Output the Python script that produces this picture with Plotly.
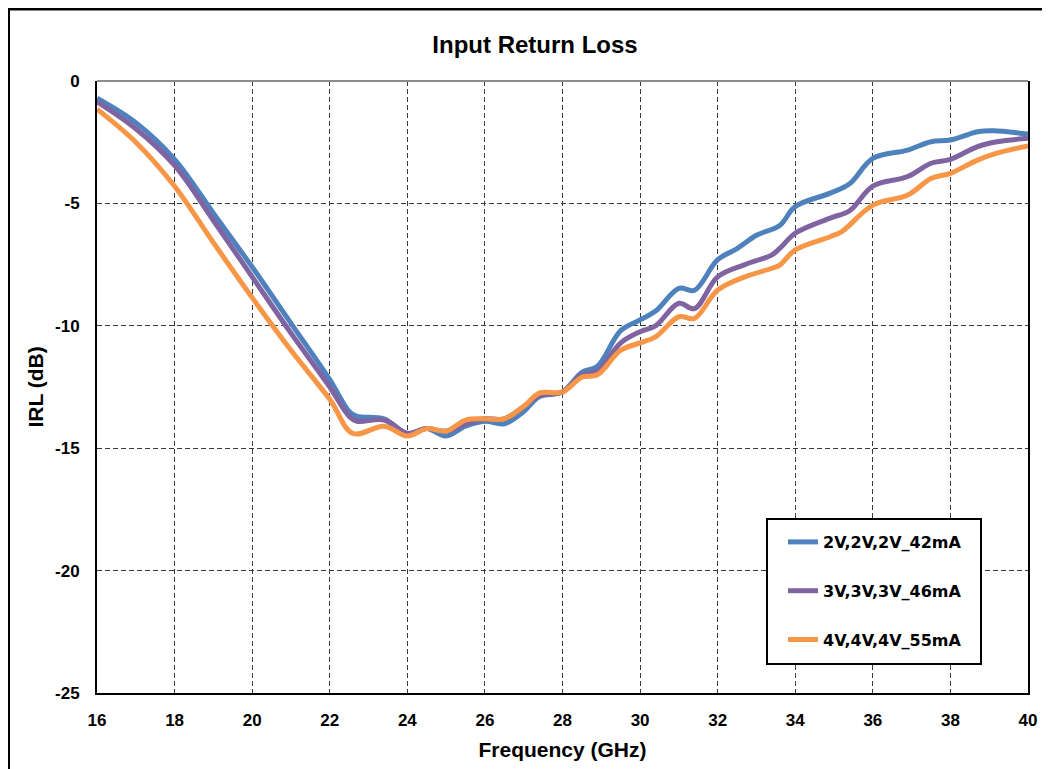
import plotly.graph_objects as go

# ---- data ----
freq_2v = [16, 17, 18, 19, 20, 21, 22, 22.5, 22.7, 23.4, 24.0, 24.5, 25.0, 25.5, 26.0, 26.5, 27.0, 27.4,
           28.0, 28.5, 28.9, 29.5, 30.0, 30.4, 31.0, 31.4, 32.0, 32.5, 33.0, 33.6, 34.0, 34.9, 35.4, 36.0,
           36.9, 37.5, 38.0, 38.7, 39.1, 40.0]
irl_2v = [-0.7, -1.7, -3.2, -5.4, -7.6, -9.9, -12.2, -13.5, -13.7, -13.8, -14.4, -14.2, -14.5, -14.1, -13.9,
          -14.0, -13.5, -12.9, -12.7, -11.9, -11.65, -10.2, -9.76, -9.4, -8.47, -8.55, -7.3, -6.85, -6.3, -5.9,
          -5.13, -4.58, -4.2, -3.16, -2.82, -2.48, -2.41, -2.07, -2.03, -2.17]

freq_3v = [16, 17, 18, 19, 20, 21, 22, 22.5, 22.7, 23.4, 24.0, 24.5, 25.0, 25.5, 26.0, 26.5, 27.0, 27.4,
           28.0, 28.5, 28.9, 29.5, 30.0, 30.4, 31.0, 31.4, 32.0, 32.7, 33.4, 33.6, 34.0, 34.9, 35.4, 36.0,
           36.9, 37.5, 38.0, 38.7, 39.2, 40.0]
irl_3v = [-0.85, -1.95, -3.45, -5.7, -8.0, -10.3, -12.5, -13.7, -13.9, -13.85, -14.4, -14.2, -14.3, -14.0,
          -13.8, -13.8, -13.3, -12.85, -12.7, -12.0, -11.85, -10.7, -10.24, -10.0, -9.08, -9.3, -8.0, -7.5,
          -7.1, -6.84, -6.22, -5.6, -5.3, -4.29, -3.9, -3.36, -3.2, -2.68, -2.48, -2.34]

freq_4v = [16, 17, 18, 19, 20, 21, 22, 22.6, 23.4, 24.0, 24.5, 25.0, 25.5, 26.0, 26.5, 27.0, 27.4,
           28.0, 28.5, 28.9, 29.5, 30.0, 30.4, 31.0, 31.4, 32.0, 32.7, 33.4, 33.6, 34.0, 34.9, 35.2, 36.0,
           36.9, 37.5, 38.0, 38.7, 39.2, 40.0]
irl_4v = [-1.15, -2.5, -4.3, -6.6, -8.85, -11.0, -13.0, -14.4, -14.1, -14.5, -14.2, -14.3, -13.85, -13.8,
          -13.8, -13.3, -12.75, -12.7, -12.1, -12.0, -11.0, -10.7, -10.45, -9.63, -9.7, -8.54, -8.0, -7.65,
          -7.52, -6.9, -6.36, -6.15, -5.07, -4.66, -3.98, -3.77, -3.23, -2.95, -2.65]

series_names = ["2V,2V,2V_42mA", "3V,3V,3V_46mA", "4V,4V,4V_55mA"]
x_ticks = [16, 18, 20, 22, 24, 26, 28, 30, 32, 34, 36, 38, 40]
y_ticks = [0, -5, -10, -15, -20, -25]

colors = ["#4F81BD", "#8064A2", "#F79646"]
label_font = "Liberation Sans, Arial, sans-serif"

# figure-pixel geometry (page is shown with an 8px body margin)
L, T, PW, PH = 89, 73, 931, 612
W, H = 1050, 769


def px(x):
    return (x - L) / PW


def py(y):
    return (T + PH - y) / PH


fig = go.Figure()
for name, xs, ys, c in zip(series_names, [freq_2v, freq_3v, freq_4v], [irl_2v, irl_3v, irl_4v], colors):
    fig.add_trace(go.Scatter(x=xs, y=ys, name=f"<b>{name}</b>", mode="lines", legendgroup=name,
                             line=dict(color=c, width=5, shape="spline", smoothing=1.0)))

grid = dict(showgrid=True, gridcolor="#3a3a3a", gridwidth=1.3, griddash="5px,3px")

fig.update_layout(
    width=W, height=H,
    margin=dict(l=L, r=W - L - PW, t=T, b=H - T - PH),
    paper_bgcolor="white", plot_bgcolor="white",
    title=dict(text="<b>Input Return Loss</b>", x=px(527), xref="paper", xanchor="center",
               y=1 - 37 / H, yanchor="middle", font=dict(family=label_font, size=24, color="black")),
    xaxis=dict(range=[16, 40], tickvals=x_ticks, ticktext=[f"<b>{v}</b>" for v in x_ticks],
               showline=True, linecolor="black", linewidth=2, zeroline=False,
               ticks="outside", ticklen=11, tickcolor="rgba(0,0,0,0)",
               tickfont=dict(family=label_font, size=17, color="black"),
               title=dict(text="<b>Frequency (GHz)</b>", font=dict(family=label_font, size=21, color="black"),
                          standoff=13),
               **grid),
    yaxis=dict(range=[-25, 0], tickvals=y_ticks, ticktext=[f"<b>{v}</b>" for v in y_ticks],
               showline=True, linecolor="black", linewidth=2, mirror=True, zeroline=False,
               ticks="outside", ticklen=12, tickcolor="rgba(0,0,0,0)",
               tickfont=dict(family=label_font, size=17, color="black"),
               title=dict(text="<b>IRL (dB)</b>", font=dict(family=label_font, size=21, color="black"),
                          standoff=6),
               **grid),
    legend=dict(x=px(775), y=py(517), xanchor="left", yanchor="top",
                borderwidth=0, bgcolor="rgba(0,0,0,0)",
                font=dict(family="DejaVu Sans, Verdana, sans-serif", size=16, color="black"),
                traceorder="grouped", tracegroupgap=25),
    showlegend=True,
)

# legend box
fig.add_shape(type="rect", xref="paper", yref="paper",
              x0=px(759), x1=px(973), y0=py(656), y1=py(511),
              line=dict(color="black", width=2), fillcolor="white", layer="above")
# top border of plot area (gray)
fig.add_shape(type="line", xref="paper", yref="paper", x0=0, x1=1, y0=1, y1=1,
              line=dict(color="#8c8c8c", width=2), layer="above")
# outer frame
fig.add_shape(type="rect", xref="paper", yref="paper",
              x0=px(0), x1=px(W + 20), y0=py(H + 20), y1=py(0.5),
              line=dict(color="black", width=4), fillcolor="rgba(0,0,0,0)", layer="above")

fig.write_html("out.html")
